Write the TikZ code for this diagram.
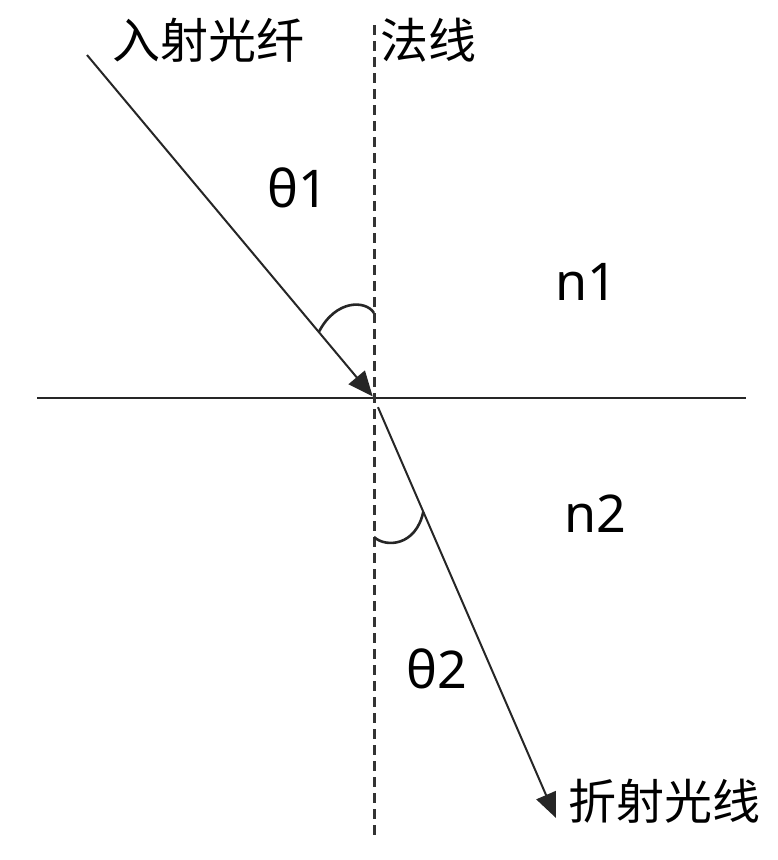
\documentclass[tikz,border=0pt]{standalone}
\usepackage{fontspec}
\setmainfont{Noto Sans CJK SC}
\newfontfamily\latinfont{Noto Sans}
\usetikzlibrary{calc, arrows.meta, positioning}

\tikzset{
  ray/.style={line width=2pt, draw=black!85, -{Triangle[length=25pt, width=21pt]}},
  normalline/.style={line width=3pt, draw=black!80, dash pattern=on 10pt off 6pt},
  anglemark/.style={line width=2.6pt, draw=black!85},
  cjklabel/.style={inner sep=0pt, font=\fontsize{48}{56}\selectfont},
  symlabel/.style={inner sep=0pt, font=\latinfont\fontsize{52}{60}\selectfont},
}

\begin{document}
\begin{tikzpicture}[x=1pt, y=-1pt]
            \useasboundingbox (0,0) rectangle (778,860);
            \coordinate (o) at (374, 398);
            \coordinate (src) at (87, 55);
            \coordinate (dst) at (556, 818);
            \coordinate (top) at (374, 25);
            \coordinate (bot) at (374, 840);
            \coordinate (left) at (37, 398);
            \coordinate (right) at (746, 398);
            % interface and normal
            \draw[line width=2.8pt, black!85] (left) -- (right);
            \draw[normalline] (top) -- (bot);
            % rays
            \draw[ray, shorten >=2pt] (src) -- (o);
            \draw[ray, shorten <=10pt] (o) -- (dst);
            % angle marks
            \coordinate (a1) at ($(o)!86pt!(src)$);
            \draw[anglemark] (a1) .. controls ($(a1)+(17,-33)$) and (366,300) .. (374,313);
            \coordinate (a2) at ($(o)!124pt!(dst)$);
            \draw[anglemark] (374,537) .. controls (386,548) and (416,546) .. (a2);
            % labels
            \node[cjklabel] (inc) at (208, 40) {入射光纤};
            \node[cjklabel] (nrm) at (428, 40) {法线};
            \node[cjklabel] (refr) at (664, 801) {折射光线};
            \node[symlabel] (t1) at (298, 188) {θ1};
            \node[symlabel] (t2) at (437, 669) {θ2};
            \node[symlabel] (n1) at (586, 282) {n1};
            \node[symlabel] (n2) at (595, 514) {n2};
        \end{tikzpicture}
\end{document}
